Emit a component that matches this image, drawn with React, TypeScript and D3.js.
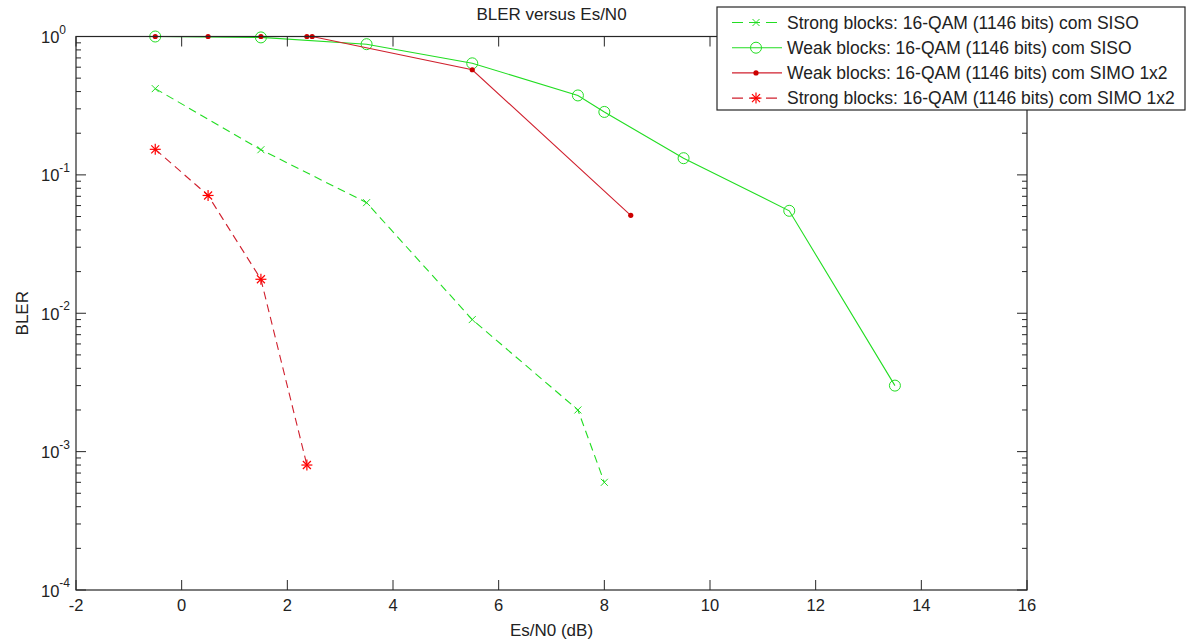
import React from "react";
import * as d3 from "d3";

const strongSisoX = [-0.5, 1.5, 3.5, 5.5, 7.5, 8];
const strongSisoY = [0.42, 0.152, 0.063, 0.009, 0.002, 0.0006];
const weakSisoX = [-0.5, 1.5, 3.5, 5.5, 7.5, 8, 9.5, 11.5, 13.5];
const weakSisoY = [1, 0.985, 0.88, 0.64, 0.375, 0.285, 0.132, 0.055, 0.003];
const weakSimoX = [-0.5, 0.5, 1.5, 2.37, 2.47, 5.5, 8.5];
const weakSimoY = [1, 1, 1, 1, 1, 0.575, 0.051];
const strongSimoX = [-0.5, 0.5, 1.5, 2.37];
const strongSimoY = [0.153, 0.071, 0.0176, 0.0008];

const xTicks = [-2, 0, 2, 4, 6, 8, 10, 12, 14, 16];
const yExps = [0, -1, -2, -3, -4];
const legendLabels = [
  "Strong blocks: 16-QAM (1146 bits) com SISO",
  "Weak blocks: 16-QAM (1146 bits) com SISO",
  "Weak blocks: 16-QAM (1146 bits) com SIMO 1x2",
  "Strong blocks: 16-QAM (1146 bits) com SIMO 1x2",
];

const W = 1186, H = 641;
const L = 76, R = 1027, T = 36.5, B = 590;
const FONT = "'Liberation Sans', Arial, sans-serif";
const GREEN = "#22dd22";
const RED_LINE = "#d0202e";
const RED_MK = "#ff0000";

type MarkerKind = "x" | "o" | "." | "*";

function Marker({ kind, cx, cy, color }: { kind: MarkerKind; cx: number; cy: number; color: string }) {
  if (kind === "o") return <circle cx={cx} cy={cy} r={5.5} fill="none" stroke={color} strokeWidth={1} />;
  if (kind === ".") return <circle cx={cx} cy={cy} r={2.6} fill="#cc0000" />;
  if (kind === "x") {
    const s = 3.5;
    return (
      <g stroke={color} strokeWidth={1}>
        <line x1={cx - s} y1={cy - s} x2={cx + s} y2={cy + s} />
        <line x1={cx - s} y1={cy + s} x2={cx + s} y2={cy - s} />
      </g>
    );
  }
  const s = 5.5, d = 4;
  return (
    <g stroke={color} strokeWidth={1.2}>
      <line x1={cx - s} y1={cy} x2={cx + s} y2={cy} />
      <line x1={cx} y1={cy - s} x2={cx} y2={cy + s} />
      <line x1={cx - d} y1={cy - d} x2={cx + d} y2={cy + d} />
      <line x1={cx - d} y1={cy + d} x2={cx + d} y2={cy - d} />
    </g>
  );
}

export default function App() {
  const x = d3.scaleLinear().domain([-2, 16]).range([L, R]);
  const y = d3.scaleLog().domain([1e-4, 1]).range([B, T]);
  const line = d3.line<[number, number]>().x((d) => x(d[0])).y((d) => y(d[1]));

  const series = [
    { xs: strongSisoX, ys: strongSisoY, color: GREEN, mcolor: GREEN, dash: "8,5", marker: "x" as MarkerKind },
    { xs: weakSisoX, ys: weakSisoY, color: GREEN, mcolor: GREEN, dash: "", marker: "o" as MarkerKind },
    { xs: weakSimoX, ys: weakSimoY, color: RED_LINE, mcolor: RED_MK, dash: "", marker: "." as MarkerKind },
    { xs: strongSimoX, ys: strongSimoY, color: RED_LINE, mcolor: RED_MK, dash: "8,5", marker: "*" as MarkerKind },
  ];

  const minorTicks: number[] = [];
  for (let e = -4; e < 0; e++) for (let m = 2; m <= 9; m++) minorTicks.push(m * Math.pow(10, e));

  const axisColor = "#262626";

  return (
    <svg width={W} height={H} style={{ position: "absolute", left: 0, top: 0, background: "#fff" }} fontFamily={FONT}>
      <rect x={0} y={0} width={W} height={H} fill="#fff" />
      {series.map((s, i) => {
        const pts: [number, number][] = s.xs.map((v, j) => [v, s.ys[j]]);
        return (
          <g key={i}>
            <path d={line(pts) || ""} fill="none" stroke={s.color} strokeWidth={1.1} strokeDasharray={s.dash || undefined} />
            {pts.map((p, j) => (
              <Marker key={j} kind={s.marker} cx={x(p[0])} cy={y(p[1])} color={s.mcolor} />
            ))}
          </g>
        );
      })}
      <rect x={L} y={T} width={R - L} height={B - T} fill="none" stroke={axisColor} strokeWidth={1.2} />
      {xTicks.map((t) => (
        <g key={t}>
          <line x1={x(t)} x2={x(t)} y1={B} y2={B - 10} stroke={axisColor} />
          <line x1={x(t)} x2={x(t)} y1={T} y2={T + 10} stroke={axisColor} />
          <text x={x(t)} y={611} textAnchor="middle" fontSize={16.5} fill="#222">{t}</text>
        </g>
      ))}
      {yExps.map((e) => {
        const yy = y(Math.pow(10, e));
        return (
          <g key={e}>
            <line x1={L} x2={L + 10} y1={yy} y2={yy} stroke={axisColor} />
            <line x1={R} x2={R - 10} y1={yy} y2={yy} stroke={axisColor} />
            <text x={41} y={yy + 6.5} fontSize={16.5} fill="#222">
              10
              <tspan fontSize={12} dy={-9.5}>{e}</tspan>
            </text>
          </g>
        );
      })}
      {minorTicks.map((v, i) => (
        <g key={"m" + i}>
          <line x1={L} x2={L + 5} y1={y(v)} y2={y(v)} stroke={axisColor} />
          <line x1={R} x2={R - 5} y1={y(v)} y2={y(v)} stroke={axisColor} />
        </g>
      ))}
      <text x={(L + R) / 2} y={20} textAnchor="middle" fontSize={17} fill="#222">BLER versus Es/N0</text>
      <text x={(L + R) / 2} y={636} textAnchor="middle" fontSize={17} fill="#222">Es/N0 (dB)</text>
      <text transform={`translate(28,${(T + B) / 2}) rotate(-90)`} textAnchor="middle" fontSize={17} fill="#222">BLER</text>
      <g>
        <rect x={717} y={7} width={468} height={103} fill="#fff" stroke={axisColor} strokeWidth={1.2} />
        {series.map((s, i) => {
          const ly = 22.5 + i * 25.2;
          return (
            <g key={"l" + i}>
              <line x1={732} x2={782} y1={ly} y2={ly} stroke={s.color} strokeWidth={1.1} strokeDasharray={s.dash ? "11,6" : undefined} />
              <Marker kind={s.marker} cx={756} cy={ly} color={s.mcolor} />
              <text x={787} y={ly + 6} fontSize={17.5} fill="#222">{legendLabels[i]}</text>
            </g>
          );
        })}
      </g>
    </svg>
  );
}
